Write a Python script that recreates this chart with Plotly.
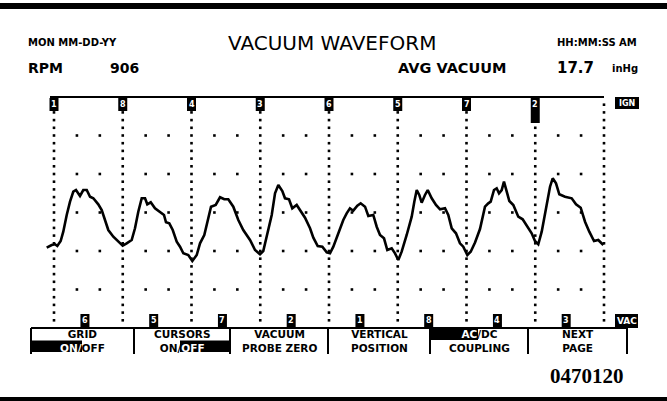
import plotly.graph_objects as go

# ---------------- data (x: horizontal divisions, y: vertical divisions) ----------------
wave_x = [-0.106,-0.033,0.015,0.048,0.097,0.135,0.185,0.233,0.281,0.320,
          0.378,0.426,0.476,0.524,0.572,0.644,0.694,0.742,0.790,0.863,
          0.935,0.999,1.057,1.130,1.178,1.226,1.276,1.324,1.357,1.407,
          1.469,1.542,1.600,1.629,1.677,1.727,1.785,1.833,1.881,1.953,
          2.012,2.076,2.124,2.186,2.236,2.284,2.352,2.415,2.477,2.535,
          2.608,2.681,2.753,2.851,2.924,2.996,3.044,3.094,3.167,3.215,
          3.263,3.321,3.360,3.418,3.466,3.530,3.593,3.651,3.724,3.772,
          3.836,3.903,3.967,4.015,4.063,4.135,4.208,4.257,4.305,4.353,
          4.412,4.461,4.524,4.572,4.644,4.694,4.742,4.800,4.848,4.912,
          4.960,5.008,5.057,5.130,5.203,5.241,5.276,5.313,5.348,5.396,
          5.436,5.494,5.556,5.615,5.687,5.735,5.785,5.847,5.905,5.953,
          6.012,6.061,6.124,6.196,6.269,6.317,6.352,6.400,6.439,6.473,
          6.512,6.545,6.585,6.623,6.681,6.753,6.817,6.884,6.948,6.996,
          7.044,7.094,7.156,7.215,7.254,7.302,7.350,7.433,7.530,7.593,
          7.661,7.724,7.786,7.855,7.917,7.990]
wave_y = [2.086,2.156,2.174,2.130,2.260,2.501,2.935,3.281,3.540,3.584,
          3.429,3.584,3.584,3.410,3.369,3.213,3.065,2.805,2.545,2.371,
          2.260,2.138,2.200,2.286,2.590,3.021,3.369,3.369,3.213,3.265,
          3.109,3.021,2.935,2.745,2.719,2.545,2.242,2.112,1.940,1.896,
          1.740,1.896,2.200,2.416,2.761,3.151,3.195,3.395,3.343,3.343,
          3.151,2.805,2.545,2.286,2.026,1.914,2.000,2.371,2.935,3.499,
          3.714,3.558,3.369,3.343,3.109,3.195,3.021,2.865,2.590,2.345,
          2.130,2.112,1.966,1.940,2.112,2.460,2.805,2.979,3.109,3.047,
          3.177,3.239,3.151,2.909,2.935,2.631,2.416,2.330,2.026,2.070,
          1.940,1.766,1.982,2.416,2.891,3.281,3.584,3.455,3.255,3.455,
          3.584,3.369,3.195,3.083,3.109,2.935,2.590,2.460,2.200,2.112,
          1.896,1.982,2.221,2.571,3.151,3.239,3.281,3.584,3.629,3.499,
          3.584,3.800,3.540,3.299,3.195,2.891,2.823,2.631,2.460,2.260,
          2.174,2.501,3.109,3.670,3.888,3.758,3.473,3.410,3.369,3.213,
          3.125,2.761,2.501,2.260,2.286,2.156]

top_cyl_labels = ["1", "8", "4", "3", "6", "5", "7", "2"]
bottom_cyl_labels = ["6", "5", "7", "2", "1", "8", "4", "3"]
menu_line1 = ["GRID", "CURSORS", "VACUUM", "VERTICAL", "AC/DC", "NEXT"]
menu_line2 = ["ON/OFF", "ON/OFF", "PROBE ZERO", "POSITION", "COUPLING", "PAGE"]
title_text = "VACUUM WAVEFORM"
date_text = "MON MM-DD-YY"
time_text = "HH:MM:SS AM"
rpm_value = "906"
avg_vacuum = "17.7"
vac_unit = "inHg"
figure_id = "0470120"

N_XDIV, N_YDIV = 8, 6

# ---------------- layout geometry ----------------
W, H = 667, 401
X0, Y0 = 54, 328          # pixel of division origin
SX, SY = 68.75, 38.5      # pixels per division


def dx(p):   # pixel -> x division
    return (p - X0) / SX


def dy(p):   # pixel -> y division
    return (Y0 - p) / SY


BLACK = "#000000"
WHITE = "#ffffff"
FONT = "DejaVu Sans"

fig = go.Figure()

# grid: dense dotted verticals
gx, gy = [], []
for i in range(N_XDIV + 1):
    for k in range(1, N_YDIV * 5):
        gx.append(i)
        gy.append(k / 5)
# sparse dots on horizontal rows
for j in range(1, N_YDIV):
    for i in range(N_XDIV):
        for k in (1, 2):
            gx.append(i + k / 3)
            gy.append(j)
fig.add_trace(go.Scatter(x=gx, y=gy, mode="markers",
                         marker=dict(symbol="square", size=2.6, color=BLACK),
                         hoverinfo="skip", showlegend=False))

# waveform
fig.add_trace(go.Scatter(x=wave_x, y=wave_y, mode="lines",
                         line=dict(color=BLACK, width=2.6),
                         showlegend=False))

shapes = []
annotations = []


def rect(x0, y0, x1, y1, fill=BLACK, line_w=0):
    shapes.append(dict(type="rect", xref="x", yref="y",
                       x0=dx(x0), x1=dx(x1), y0=dy(y0), y1=dy(y1),
                       fillcolor=fill, line=dict(width=line_w, color=BLACK),
                       layer="above"))


def hline(x0, x1, y, w=2):
    shapes.append(dict(type="line", xref="x", yref="y",
                       x0=dx(x0), x1=dx(x1), y0=dy(y), y1=dy(y),
                       line=dict(color=BLACK, width=w), layer="above"))


def vline(x, y0, y1, w=2):
    shapes.append(dict(type="line", xref="x", yref="y",
                       x0=dx(x), x1=dx(x), y0=dy(y0), y1=dy(y1),
                       line=dict(color=BLACK, width=w), layer="above"))


def text(t, x, y, size, color=BLACK, bold=True, anchor="center", family=FONT):
    annotations.append(dict(text=t, xref="x", yref="y", x=dx(x), y=dy(y),
                            showarrow=False, xanchor=anchor, yanchor="middle",
                            borderpad=0,
                            font=dict(family=family, size=size, color=color,
                                      weight="bold" if bold else "normal")))


def white(s):
    return "<span style='color:%s'>%s</span>" % (WHITE, s)


# thick frame bars
rect(0, 3, W, 9)
rect(0, 397, W, 401)

# plot frame top / menu top
hline(50, X0 + N_XDIV * SX, 97)
hline(31, 627, 328)

# top cylinder markers (on cursor lines)
for i, lab in enumerate(top_cyl_labels):
    cx = X0 + i * SX
    bottom = 123 if i == len(top_cyl_labels) - 1 else 111
    rect(cx - 4.5, 98, cx + 4.5, bottom)
    text(lab, cx, 104.5, 8, color=WHITE)

# bottom cylinder markers
for i, lab in enumerate(bottom_cyl_labels):
    cx = X0 + (i + 0.45) * SX
    rect(cx - 4.5, 314, cx + 4.5, 327)
    text(lab, cx, 320.5, 8, color=WHITE)

# IGN / VAC tags
rect(615, 97, 639, 109)
text("IGN", 627, 103, 8, color=WHITE)
rect(615, 314, 638, 328)
text("VAC", 626.5, 321, 9, color=WHITE)

# header
text(date_text, 27, 42, 10, anchor="left")
text(time_text, 638, 42, 10, anchor="right")
text(title_text, 332, 42.5, 20, bold=False)
text("RPM", 27, 67.5, 14, anchor="left")
text(rpm_value, 140, 67.5, 14, anchor="right")
text("AVG VACUUM", 452.5, 67.5, 14.5)
text(avg_vacuum, 575, 67.5, 15)
text(vac_unit, 625, 68, 10)

# menu
edges = [31, 134, 230, 328, 430, 528, 627]
for e in edges:
    vline(e, 328, 354)
MY = 341
MS = 10.5
# highlighted (inverse video) selections
rect(31, 340.5, 82, 352)     # GRID: ON
rect(180, 340.5, 230, 352)   # CURSORS: OFF
rect(430, 329, 478, 340)     # AC/DC: AC
for i in range(6):
    cx = (edges[i] + edges[i + 1]) / 2
    l1, l2 = menu_line1[i], menu_line2[i]
    if i == 0:
        l2 = white("ON/") + "OFF"
    elif i == 1:
        l2 = "ON/" + white("OFF")
    elif i == 4:
        l1 = white("AC") + "/DC"
    text(l1 + "<br>" + l2, cx, MY, MS)

text(figure_id, 587, 375.5, 21, family="Liberation Serif")

fig.update_layout(
    width=W, height=H,
    margin=dict(l=0, r=0, t=0, b=0, pad=0),
    paper_bgcolor="white", plot_bgcolor="white",
    xaxis=dict(range=[dx(0), dx(W)], visible=False, fixedrange=True),
    yaxis=dict(range=[dy(H), dy(0)], visible=False, fixedrange=True),
    shapes=shapes, annotations=annotations,
    showlegend=False,
)

fig.write_html("out.html",
               config={"displayModeBar": False},
               post_script="document.body.style.margin='0';"
                           "document.body.style.overflow='hidden';")
